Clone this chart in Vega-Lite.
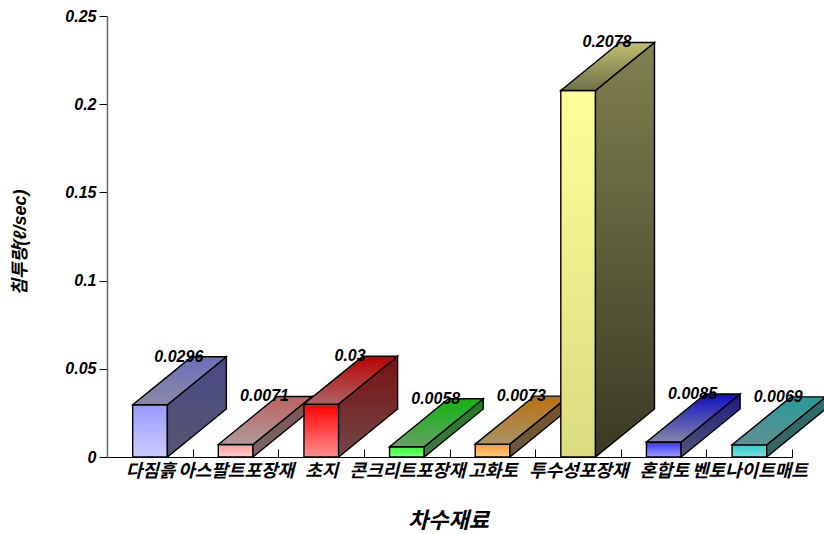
{
  "$schema": "https://vega.github.io/schema/vega-lite/v6.json",
  "width": 685,
  "height": 441,
  "autosize": "none",
  "padding": {"left": 107, "top": 16, "right": 32, "bottom": 77},
  "background": "white",
  "config": {"view": {"stroke": null}, "area": {"stroke": "#000000", "strokeWidth": 1.4, "fillOpacity": 1, "clip": false}},
  "data": {"values": [
    {"material": "다짐흙", "slot": 0, "rate": 0.0296},
    {"material": "아스팔트포장재", "slot": 1, "rate": 0.0071},
    {"material": "초지", "slot": 2, "rate": 0.03},
    {"material": "콘크리트포장재", "slot": 3, "rate": 0.0058},
    {"material": "고화토", "slot": 4, "rate": 0.0073},
    {"material": "투수성포장재", "slot": 5, "rate": 0.2078},
    {"material": "혼합토", "slot": 6, "rate": 0.0085},
    {"material": "벤토나이트매트", "slot": 7, "rate": 0.0069}
  ]},
  "layer": [
    {
      "transform": [
        {"calculate": "datum.slot + 0.3", "as": "l"},
        {"calculate": "datum.l + 0.405", "as": "r"},
        {"calculate": "datum.rate", "as": "v"},
        {"calculate": "[{face: datum.slot + '-a', px: datum.l, top: datum.v, base: 0}, {face: datum.slot + '-a', px: datum.r, top: datum.v, base: 0}, {face: datum.slot + '-b', px: datum.r, top: datum.v, base: 0}, {face: datum.slot + '-b', px: datum.r + 0.689, top: datum.v + 0.0272, base: 0.0272}, {face: datum.slot + '-c', px: datum.l, top: datum.v, base: datum.v}, {face: datum.slot + '-c', px: datum.r, top: datum.v + 0.0272 * 0.405 / 0.689, base: datum.v}, {face: datum.slot + '-c', px: datum.l + 0.689, top: datum.v + 0.0272, base: datum.v + 0.0272 * 0.284 / 0.689}, {face: datum.slot + '-c', px: datum.r + 0.689, top: datum.v + 0.0272, base: datum.v + 0.0272}]", "as": "corner"},
        {"flatten": ["corner"]},
        {"calculate": "datum.corner.face", "as": "face"},
        {"calculate": "datum.corner.px", "as": "px"},
        {"calculate": "datum.corner.top", "as": "top"},
        {"calculate": "datum.corner.base", "as": "base"}
      ],
      "encoding": {
        "x": {
          "field": "px",
          "type": "quantitative",
          "scale": {"domain": [0, 8], "nice": false},
          "title": "차수재료",
          "axis": {
            "values": [0, 1, 2, 3, 4, 5, 6, 7, 8],
            "labelExpr": "['다짐흙','아스팔트포장재','초지','콘크리트포장재','고화토','투수성포장재','혼합토','벤토나이트매트',''][datum.value]",
            "labelOffset": 43,
            "labelOverlap": false,
            "labelBound": false,
            "labelFlush": false,
            "labelAlign": "center",
            "labelFont": "Noto Sans CJK KR",
            "labelFontSize": 18,
            "labelFontStyle": "italic",
            "labelFontWeight": "bold",
            "labelColor": "#000000",
            "labelPadding": 13,
            "tickSize": -8,
            "tickColor": "#000000",
            "domainColor": "#000000",
            "grid": false,
            "titleFont": "Noto Sans CJK KR",
            "titleFontSize": 22,
            "titleFontStyle": "italic",
            "titleFontWeight": "bold",
            "titleColor": "#000000",
            "titleBaseline": "middle",
            "titleX": 341,
            "titleY": 63
          }
        },
        "y": {
          "field": "top",
          "type": "quantitative",
          "scale": {"domain": [0, 0.25], "nice": false},
          "title": "침투량(ℓ/sec)",
          "axis": {
            "values": [0, 0.05, 0.1, 0.15, 0.2, 0.25],
            "format": "~g",
            "labelFont": "Liberation Sans",
            "labelFontSize": 16,
            "labelFontStyle": "italic",
            "labelFontWeight": "bold",
            "labelColor": "#000000",
            "labelPadding": 3,
            "tickSize": 8,
            "tickColor": "#000000",
            "domainColor": "#666666",
            "domainWidth": 1.5,
            "grid": false,
            "titleFont": "Liberation Sans, Noto Sans CJK KR",
            "titleFontSize": 18,
            "titleFontStyle": "italic",
            "titleFontWeight": "bold",
            "titleColor": "#000000",
            "titleBaseline": "middle",
            "titleX": -87,
            "titleY": 226
          }
        },
        "y2": {"field": "base"}
      },
      "layer": [
        {"transform": [{"filter": "datum.face == '0-a'"}], "mark": {"type": "area", "fill": {"gradient": "linear", "x1": 0, "y1": 0, "x2": 0, "y2": 1, "stops": [{"offset": 0, "color": "#9999ff"}, {"offset": 1, "color": "#ccccff"}]}}},
        {"transform": [{"filter": "datum.face == '0-b'"}], "mark": {"type": "area", "fill": {"gradient": "linear", "x1": 0, "y1": 0, "x2": 0, "y2": 1, "stops": [{"offset": 0, "color": "#4a4a85"}, {"offset": 1, "color": "#555570"}]}}},
        {"transform": [{"filter": "datum.face == '0-c'"}], "mark": {"type": "area", "fill": {"gradient": "linear", "x1": 0, "y1": 0, "x2": 0, "y2": 1, "stops": [{"offset": 0, "color": "#6a6eb8"}, {"offset": 1, "color": "#8a8aa5"}]}}},
        {"transform": [{"filter": "datum.face == '1-a'"}], "mark": {"type": "area", "fill": {"gradient": "linear", "x1": 0, "y1": 0, "x2": 0, "y2": 1, "stops": [{"offset": 0, "color": "#ff9999"}, {"offset": 1, "color": "#ffd0d0"}]}}},
        {"transform": [{"filter": "datum.face == '1-b'"}], "mark": {"type": "area", "fill": {"gradient": "linear", "x1": 0, "y1": 0, "x2": 0, "y2": 1, "stops": [{"offset": 0, "color": "#7f5050"}, {"offset": 1, "color": "#776969"}]}}},
        {"transform": [{"filter": "datum.face == '1-c'"}], "mark": {"type": "area", "fill": {"gradient": "linear", "x1": 0, "y1": 0, "x2": 0, "y2": 1, "stops": [{"offset": 0, "color": "#c06060"}, {"offset": 1, "color": "#b09a9a"}]}}},
        {"transform": [{"filter": "datum.face == '2-a'"}], "mark": {"type": "area", "fill": {"gradient": "linear", "x1": 0, "y1": 0, "x2": 0, "y2": 1, "stops": [{"offset": 0, "color": "#ff0000"}, {"offset": 1, "color": "#ff9090"}]}}},
        {"transform": [{"filter": "datum.face == '2-b'"}], "mark": {"type": "area", "fill": {"gradient": "linear", "x1": 0, "y1": 0, "x2": 0, "y2": 1, "stops": [{"offset": 0, "color": "#7a1010"}, {"offset": 1, "color": "#704848"}]}}},
        {"transform": [{"filter": "datum.face == '2-c'"}], "mark": {"type": "area", "fill": {"gradient": "linear", "x1": 0, "y1": 0, "x2": 0, "y2": 1, "stops": [{"offset": 0, "color": "#bb0000"}, {"offset": 1, "color": "#aa6666"}]}}},
        {"transform": [{"filter": "datum.face == '3-a'"}], "mark": {"type": "area", "fill": {"gradient": "linear", "x1": 0, "y1": 0, "x2": 0, "y2": 1, "stops": [{"offset": 0, "color": "#33ff33"}, {"offset": 1, "color": "#80ff80"}]}}},
        {"transform": [{"filter": "datum.face == '3-b'"}], "mark": {"type": "area", "fill": {"gradient": "linear", "x1": 0, "y1": 0, "x2": 0, "y2": 1, "stops": [{"offset": 0, "color": "#208020"}, {"offset": 1, "color": "#457545"}]}}},
        {"transform": [{"filter": "datum.face == '3-c'"}], "mark": {"type": "area", "fill": {"gradient": "linear", "x1": 0, "y1": 0, "x2": 0, "y2": 1, "stops": [{"offset": 0, "color": "#11b511"}, {"offset": 1, "color": "#66a066"}]}}},
        {"transform": [{"filter": "datum.face == '4-a'"}], "mark": {"type": "area", "fill": {"gradient": "linear", "x1": 0, "y1": 0, "x2": 0, "y2": 1, "stops": [{"offset": 0, "color": "#ff9933"}, {"offset": 1, "color": "#ffcc88"}]}}},
        {"transform": [{"filter": "datum.face == '4-b'"}], "mark": {"type": "area", "fill": {"gradient": "linear", "x1": 0, "y1": 0, "x2": 0, "y2": 1, "stops": [{"offset": 0, "color": "#7a5020"}, {"offset": 1, "color": "#6a5a45"}]}}},
        {"transform": [{"filter": "datum.face == '4-c'"}], "mark": {"type": "area", "fill": {"gradient": "linear", "x1": 0, "y1": 0, "x2": 0, "y2": 1, "stops": [{"offset": 0, "color": "#bb7010"}, {"offset": 1, "color": "#a89468"}]}}},
        {"transform": [{"filter": "datum.face == '5-a'"}], "mark": {"type": "area", "fill": {"gradient": "linear", "x1": 0, "y1": 0, "x2": 0, "y2": 1, "stops": [{"offset": 0, "color": "#ffff99"}, {"offset": 1, "color": "#dbdb80"}]}}},
        {"transform": [{"filter": "datum.face == '5-b'"}], "mark": {"type": "area", "fill": {"gradient": "linear", "x1": 0, "y1": 0, "x2": 0, "y2": 1, "stops": [{"offset": 0, "color": "#808050"}, {"offset": 1, "color": "#3a3a25"}]}}},
        {"transform": [{"filter": "datum.face == '5-c'"}], "mark": {"type": "area", "fill": {"gradient": "linear", "x1": 0, "y1": 0, "x2": 0, "y2": 1, "stops": [{"offset": 0, "color": "#c0c070"}, {"offset": 1, "color": "#707048"}]}}},
        {"transform": [{"filter": "datum.face == '6-a'"}], "mark": {"type": "area", "fill": {"gradient": "linear", "x1": 0, "y1": 0, "x2": 0, "y2": 1, "stops": [{"offset": 0, "color": "#3333ff"}, {"offset": 1, "color": "#a0a0ff"}]}}},
        {"transform": [{"filter": "datum.face == '6-b'"}], "mark": {"type": "area", "fill": {"gradient": "linear", "x1": 0, "y1": 0, "x2": 0, "y2": 1, "stops": [{"offset": 0, "color": "#1a1a80"}, {"offset": 1, "color": "#555575"}]}}},
        {"transform": [{"filter": "datum.face == '6-c'"}], "mark": {"type": "area", "fill": {"gradient": "linear", "x1": 0, "y1": 0, "x2": 0, "y2": 1, "stops": [{"offset": 0, "color": "#0f0fc0"}, {"offset": 1, "color": "#8585a8"}]}}},
        {"transform": [{"filter": "datum.face == '7-a'"}], "mark": {"type": "area", "fill": {"gradient": "linear", "x1": 0, "y1": 0, "x2": 0, "y2": 1, "stops": [{"offset": 0, "color": "#33cccc"}, {"offset": 1, "color": "#80dddd"}]}}},
        {"transform": [{"filter": "datum.face == '7-b'"}], "mark": {"type": "area", "fill": {"gradient": "linear", "x1": 0, "y1": 0, "x2": 0, "y2": 1, "stops": [{"offset": 0, "color": "#2a7070"}, {"offset": 1, "color": "#3a6060"}]}}},
        {"transform": [{"filter": "datum.face == '7-c'"}], "mark": {"type": "area", "fill": {"gradient": "linear", "x1": 0, "y1": 0, "x2": 0, "y2": 1, "stops": [{"offset": 0, "color": "#2a9a9a"}, {"offset": 1, "color": "#609090"}]}}}
      ]
    },
    {
      "transform": [
        {"calculate": "datum.slot + 0.839", "as": "labelAt"},
        {"calculate": "datum.rate + 0.0272", "as": "labelTop"}
      ],
      "mark": {"type": "text", "font": "Liberation Sans", "fontSize": 16, "fontStyle": "italic", "fontWeight": "bold", "color": "#000000", "align": "center", "baseline": "middle", "clip": false},
      "encoding": {
        "x": {"field": "labelAt", "type": "quantitative"},
        "y": {"field": "labelTop", "type": "quantitative"},
        "text": {"field": "rate", "type": "nominal"}
      }
    }
  ]
}
